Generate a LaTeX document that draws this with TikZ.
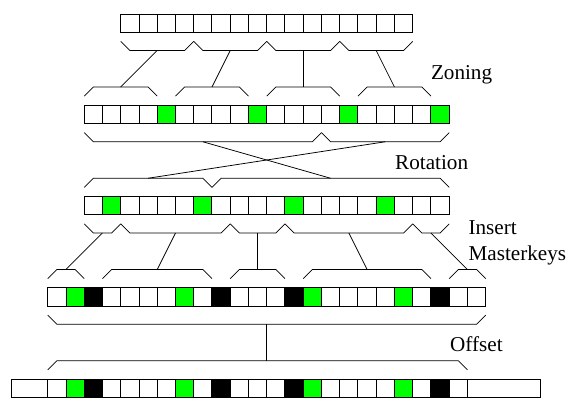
\documentclass[tikz,border=0pt]{standalone}
\usepackage{fontspec}
\setmainfont{Liberation Serif}
\usepackage{tikz}

\tikzset{
  cell/.style={draw, line width=0.7pt, minimum size=0.5cm, inner sep=0pt, outer sep=0pt, fill=white},
  zmark/.style={cell, fill=green},
  mkey/.style={cell, fill=black},
  brace/.style={line width=0.6pt},
  lbl/.style={anchor=base west, inner sep=0pt, font=\fontsize{16.5}{20}\selectfont}
}

% brace under a run of cells, midpoint named #3
\newcommand{\bracebelow}[3]{%
  \draw[brace] ([shift={(0,-0.5)}]#1.south west) -- ++(0.5,-0.5)
    -- ([shift={(-0.5,-1)}]#2.south east) -- ([shift={(0,-0.5)}]#2.south east);
  \path ([shift={(0,-1)}]#1.south west) -- ([shift={(0,-1)}]#2.south east) coordinate[midway] (#3);}
% brace over a run of cells, midpoint named #3
\newcommand{\braceabove}[3]{%
  \draw[brace] ([shift={(0,0.5)}]#1.north west) -- ++(0.5,0.5)
    -- ([shift={(-0.5,1)}]#2.north east) -- ([shift={(0,0.5)}]#2.north east);
  \path ([shift={(0,1)}]#1.north west) -- ([shift={(0,1)}]#2.north east) coordinate[midway] (#3);}

\begin{document}
\begin{tikzpicture}[x=0.5cm,y=0.5cm]
  \useasboundingbox (-0.614,-21.04) rectangle (30.62,0.767);

  % the five rows
  \foreach \i in {0,...,15}
    \node[cell] (a\i) at (6.5+\i,-0.5) {};
  \foreach \s [count=\i from 0] in {cell,cell,cell,cell,zmark,cell,cell,cell,cell,zmark,
                                    cell,cell,cell,cell,zmark,cell,cell,cell,cell,zmark}
    \node[\s] (b\i) at (4.5+\i,-5.5) {};
  \foreach \s [count=\i from 0] in {cell,zmark,cell,cell,cell,cell,zmark,cell,cell,cell,
                                    cell,zmark,cell,cell,cell,cell,zmark,cell,cell,cell}
    \node[\s] (c\i) at (4.5+\i,-10.5) {};
  \foreach \s [count=\i from 0] in {cell,zmark,mkey,cell,cell,cell,cell,zmark,cell,mkey,cell,cell,
                                    cell,mkey,zmark,cell,cell,cell,cell,zmark,cell,mkey,cell,cell}
    \node[\s] (d\i) at (2.5+\i,-15.5) {};
  \foreach \s [count=\i from 0] in {cell,zmark,mkey,cell,cell,cell,cell,zmark,cell,mkey,cell,cell,
                                    cell,mkey,zmark,cell,cell,cell,cell,zmark,cell,mkey,cell}
    \node[\s] (e\i) at (2.5+\i,-20.5) {};
  \node[cell, minimum width=1cm] (eleft) at (1,-20.5) {};
  \node[cell, minimum width=2cm] (eright) at (27,-20.5) {};

  % zoning
  \bracebelow{a0}{a3}{zt1}   \bracebelow{a4}{a7}{zt2}
  \bracebelow{a8}{a11}{zt3}  \bracebelow{a12}{a15}{zt4}
  \braceabove{b0}{b3}{zb1}   \braceabove{b5}{b8}{zb2}
  \braceabove{b10}{b13}{zb3} \braceabove{b15}{b18}{zb4}
  \foreach \k in {1,...,4}
    \draw[brace] (zt\k) -- (zb\k);
  \node[lbl] (zoning) at (22.99,-3.58) {Zoning};

  % rotation
  \bracebelow{b0}{b12}{rt1}  \bracebelow{b13}{b19}{rt2}
  \braceabove{c0}{c6}{rb1}   \braceabove{c7}{c19}{rb2}
  \draw[brace] (rt1) -- (rb2);
  \draw[brace] (rt2) -- (rb1);
  \node[lbl] (rotation) at (21.03,-8.52) {Rotation};

  % masterkeys
  \bracebelow{c0}{c1}{it1}   \bracebelow{c2}{c7}{it2}   \bracebelow{c8}{c10}{it3}
  \bracebelow{c11}{c17}{it4} \bracebelow{c18}{c19}{it5}
  \braceabove{d0}{d1}{ib1}   \braceabove{d3}{d8}{ib2}   \braceabove{d10}{d12}{ib3}
  \braceabove{d14}{d20}{ib4} \braceabove{d22}{d23}{ib5}
  \foreach \k in {1,...,5}
    \draw[brace] (it\k) -- (ib\k);
  \node[lbl] (insert) at (25.05,-12.07) {Insert};
  \node[lbl] (masterkeys) at (25.05,-13.48) {Masterkeys};

  % offset
  \bracebelow{d0}{d23}{ot}
  \braceabove{e0}{e22}{ob}
  \draw[brace] (ot) -- (ot |- ob);
  \node[lbl] (offset) at (24.04,-18.52) {Offset};
\end{tikzpicture}
\end{document}
